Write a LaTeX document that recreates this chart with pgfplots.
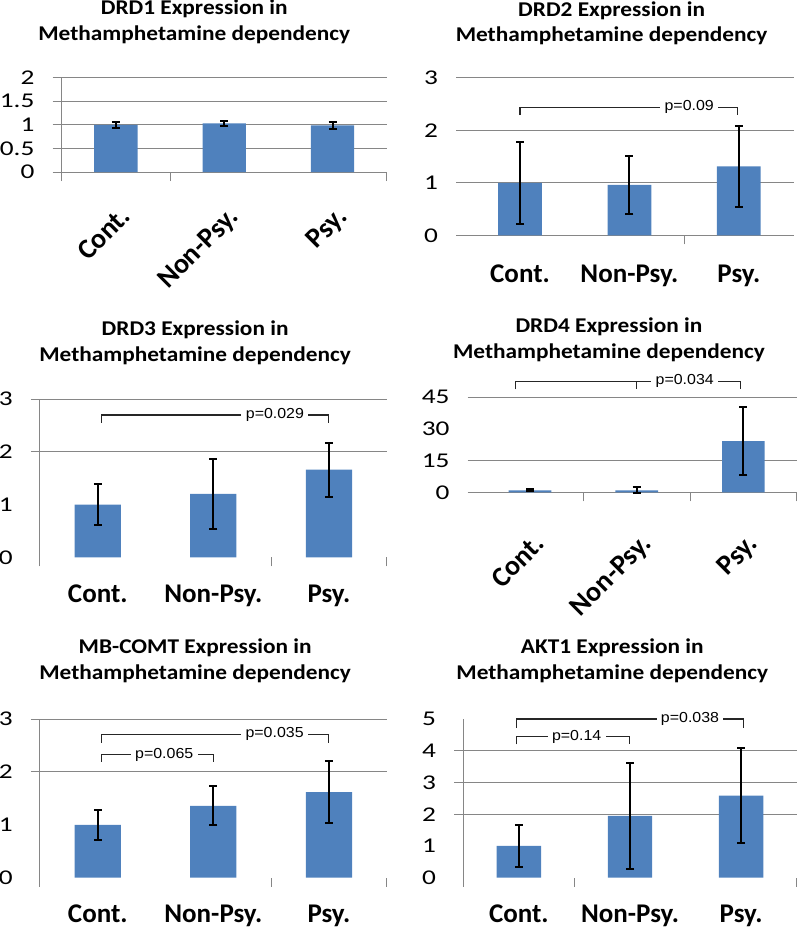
\documentclass[border=0pt]{standalone}
\usepackage{fontspec}
\setmainfont{Carlito}
\newfontfamily\pfont{Liberation Sans}
\usepackage{pgfplots}
\pgfplotsset{compat=1.18}
\definecolor{barc}{HTML}{4F81BD}
\definecolor{gridc}{HTML}{868686}
\definecolor{brc}{HTML}{262626}

\pgfplotsset{
  panel/.style={
    scale only axis, anchor=south west, clip=false,
    axis x line*=bottom, axis y line*=left, axis line style={-, draw=none},
    xmin=0.5, xmax=3.5, ymin=0,
    xtick={1,2,3}, xticklabels={Cont.,Non-Psy.,Psy.},
    major tick length=0pt, major tick style={draw=none},
    minor tick length=9pt, tick align=outside,
    minor tick style={draw=gridc, line width=1pt},
    yminorgrids, minor grid style={draw=gridc, line width=1pt},
    /pgf/number format/assume math mode=true,
    yticklabel style={font=\fontsize{21}{21}\selectfont, anchor=east, inner sep=0pt,
      xshift=-27pt, xscale=1.3},
    xticklabel style={font=\fontsize{27}{27}\selectfont\bfseries, anchor=north, inner sep=0pt},
    title style={font=\fontsize{21}{25.5}\selectfont\bfseries, align=center,
      anchor=north, at={(0.5,1)}, inner sep=0pt, xscale=1.11},
  },
  leftline/.style={y axis line style={draw=gridc, line width=1pt}},
  slanted/.style={xticklabel style={font=\fontsize{28}{28}\selectfont\bfseries,
    xshift=3pt, yshift=-#1, rotate=45, anchor=north east}},
  bars/.style={ybar, fill=barc, draw=none, bar width=0.4,
    error bars/.cd, y dir=both, y explicit,
    error bar style={line width=2pt, black},
    error mark options={rotate=90, mark size=4pt, line width=2pt, black}},
}
\tikzset{
  brk/.style={draw=brc, line width=1.1pt},
  pval/.style={font=\pfont\fontsize{14.5}{14.5}\selectfont, fill=white,
    inner xsep=4pt, inner ysep=1pt, xscale=1.1},
}

\begin{document}
\begin{tikzpicture}
\useasboundingbox (0,0) rectangle (800pt,-930pt);

% DRD1
\begin{axis}[panel, leftline, at={(61.7pt,-172pt)}, width=325pt, height=94.3pt,
  ymax=2, ytick={0,0.5,1,1.5,2}, minor ytick={0,0.5,1,1.5,2}, minor xtick={0.5,1.5,3.5},
  slanted=33pt,
  title={DRD1 Expression in\\Methamphetamine dependency},
  title style={xshift=-27pt, yshift=72pt}]
\addplot[bars] table[x=x, y=y, y error=e] {
x y e
1 1.00 0.06
2 1.03 0.05
3 0.99 0.07
};
\end{axis}

% DRD2
\begin{axis}[panel, at={(465.3pt,-235.3pt)}, width=328.2pt, height=157.6pt,
  ymax=3, ytick={0,1,2,3}, minor ytick={0,1,2,3}, minor xtick={2.5},
  xticklabel style={yshift=-29pt},
  title={DRD2 Expression in\\Methamphetamine dependency},
  title style={xshift=-16pt, yshift=70.4pt}]
\addplot[bars] table[x=x, y=y, y error=e] {
x y e
1 1.00 0.78
2 0.96 0.55
3 1.31 0.77
};
\draw[brk] (axis cs:1,2.29) |- (axis cs:2.99,2.435) -- (axis cs:2.99,2.29);
\node[pval] at (axis cs:2.547,2.435) {p=0.09};
\end{axis}

% DRD3
\begin{axis}[panel, leftline, at={(40pt,-557.3pt)}, width=346.7pt, height=158.3pt,
  ymax=3, ytick={0,1,2,3}, minor ytick={2,3}, minor xtick={0.5,2.5,3.5},
  xticklabel style={yshift=-27pt},
  title={DRD3 Expression in\\Methamphetamine dependency},
  title style={xshift=-16.4pt, yshift=72.3pt}]
\addplot[bars] table[x=x, y=y, y error=e] {
x y e
1 1.00 0.39
2 1.20 0.67
3 1.66 0.51
};
\draw[brk] (axis cs:1.034,2.55) |- (axis cs:2.995,2.697) -- (axis cs:2.995,2.55);
\node[pval] at (axis cs:2.533,2.697) {p=0.029};
\end{axis}

% DRD4
\begin{axis}[panel, at={(476.7pt,-492.3pt)}, width=320pt, height=95pt,
  ymax=45, ytick={0,15,30,45}, minor ytick={0,15,45}, minor xtick={1.5,2.5,3.5},
  slanted=40pt,
  title={DRD4 Expression in\\Methamphetamine dependency},
  title style={xshift=-25pt, yshift=73.3pt}]
\addplot[bars] table[x=x, y=y, y error=e] {
x y e
1 0.9 0.5
2 0.9 1.4
3 24.2 16.2
};
\draw[brk] (axis cs:0.86,48.8) |- (axis cs:2.975,52.7) -- (axis cs:2.975,48.8);
\draw[brk] (axis cs:2,52.7) -- (axis cs:2,48.8);
\node[pval] at (axis cs:2.45,52.7) {p=0.034};
\end{axis}

% MB-COMT
\begin{axis}[panel, leftline, at={(40pt,-877.7pt)}, width=346.7pt, height=158.7pt,
  ymax=3, ytick={0,1,2,3}, minor ytick={2,3}, minor xtick={0.5,2.5,3.5},
  xticklabel style={yshift=-27pt},
  title={MB-COMT Expression in\\Methamphetamine dependency},
  title style={xshift=-16.4pt, yshift=74pt}]
\addplot[bars] table[x=x, y=y, y error=e] {
x y e
1 1.00 0.28
2 1.36 0.37
3 1.62 0.59
};
\draw[brk] (axis cs:1.034,2.55) |- (axis cs:2.995,2.71) -- (axis cs:2.995,2.55);
\node[pval] at (axis cs:2.53,2.71) {p=0.035};
\draw[brk] (axis cs:1.034,2.19) |- (axis cs:2.0,2.33) -- (axis cs:2.0,2.19);
\node[pval] at (axis cs:1.575,2.33) {p=0.065};
\end{axis}

% AKT1
\begin{axis}[panel, leftline, at={(463.3pt,-877.7pt)}, width=333.4pt, height=158.7pt,
  ymax=5, ytick={0,1,2,3,4,5}, minor ytick={2,3,4}, minor xtick={0.5,1.5,3.5},
  xticklabel style={yshift=-27pt},
  title={AKT1 Expression in\\Methamphetamine dependency},
  title style={xshift=-16pt, yshift=74pt}]
\addplot[bars] table[x=x, y=y, y error=e] {
x y e
1 1.00 0.66
2 1.95 1.67
3 2.59 1.51
};
\draw[brk] (axis cs:0.98,4.71) |- (axis cs:3.02,5.0) -- (axis cs:3.02,4.71);
\node[pval] at (axis cs:2.54,5.0) {p=0.038};
\draw[brk] (axis cs:0.98,4.20) |- (axis cs:1.994,4.44) -- (axis cs:1.994,4.20);
\node[pval] at (axis cs:1.52,4.44) {p=0.14};
\end{axis}
\end{tikzpicture}
\end{document}
